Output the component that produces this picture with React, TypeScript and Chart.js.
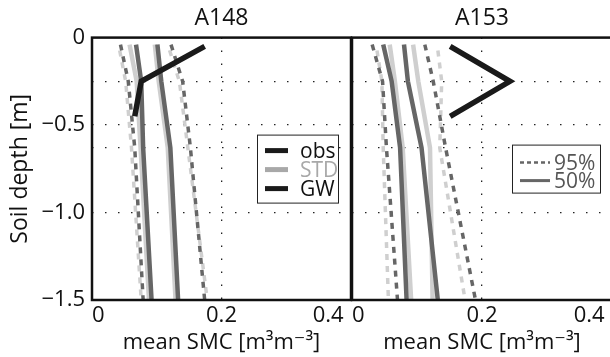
import React, { useEffect, useRef } from "react";
import { Chart, registerables } from "chart.js";
Chart.register(...registerables);

const FONT = "'Open Sans', 'DejaVu Sans', sans-serif";

const panelTitles = ["A148", "A153"];
const xTickValues = [0, 0.2, 0.4];
const xTickLabels = ["0", "0.2", "0.4\u2009\u2009"];
const yTickValues = [0, -0.25, -0.5, -0.63, -1.0, -1.5];
const yTickLabels = ["0", "", "\u22120.5", "", "\u22121.0", "\u22121.5"];
const xTitle = "mean SMC [m\u00B3m\u207B\u00B3]";
const yTitle = "Soil depth [m]";

const modelDepth = [-0.04, -0.25, -0.63, -1.5];
const obsDepth = [-0.05, -0.25, -0.45];

// A148
const a148Obs = [0.174, 0.076, 0.066];
const a148StdLo95 = [0.041, 0.052, 0.061, 0.076];
const a148GwLo95 = [0.044, 0.056, 0.066, 0.079];
const a148StdLo50 = [0.058, 0.069, 0.075, 0.088];
const a148GwLo50 = [0.068, 0.076, 0.079, 0.092];
const a148GwHi50 = [0.101, 0.107, 0.121, 0.133];
const a148StdHi50 = [0.097, 0.103, 0.117, 0.129];
const a148StdHi95 = [0.117, 0.135, 0.148, 0.178];
const a148GwHi95 = [0.122, 0.140, 0.152, 0.174];

// A153
const a153Obs = [0.151, 0.243, 0.151];
const a153GwLo95 = [0.031, 0.047, 0.053, 0.070];
const a153StdLo95 = [0.037, 0.046, 0.048, 0.056];
const a153GwLo50 = [0.048, 0.061, 0.074, 0.084];
const a153StdLo50 = [0.058, 0.066, 0.078, 0.091];
const a153GwHi50 = [0.080, 0.086, 0.107, 0.132];
const a153StdHi50 = [0.094, 0.102, 0.120, 0.124];
const a153GwHi95 = [0.112, 0.125, 0.144, 0.190];
const a153StdHi95 = [0.131, 0.138, 0.135, 0.174];

const legendObsLabels = ["obs", "STD", "GW"];
const legendPctLabels = ["95%", "50%"];

const DARK = "#666666";
const LIGHT = "#cfcfcf";
const OBS = "#1a1a1a";
const LEGEND_STD = "#a8a8a8";

function line(xs: number[], ys: number[], color: string, width: number, dash: number[] = [], dashOffset = 0) {
  return {
    data: xs.map((x, i) => ({ x, y: ys[i] })),
    borderColor: color,
    backgroundColor: color,
    borderWidth: width,
    borderDash: dash,
    borderDashOffset: dashOffset,
    borderCapStyle: "butt",
    borderJoinStyle: "miter",
    pointRadius: 0,
    showLine: true,
    fill: false,
    tension: 0,
  };
}

const DASH = [6, 6];

function panelDatasets(p: number) {
  const s =
    p === 0
      ? { obs: a148Obs, gl95: a148GwLo95, gh95: a148GwHi95, gl50: a148GwLo50, gh50: a148GwHi50, sl95: a148StdLo95, sh95: a148StdHi95, sl50: a148StdLo50, sh50: a148StdHi50 }
      : { obs: a153Obs, gl95: a153GwLo95, gh95: a153GwHi95, gl50: a153GwLo50, gh50: a153GwHi50, sl95: a153StdLo95, sh95: a153StdHi95, sl50: a153StdLo50, sh50: a153StdHi50 };
  // first dataset is drawn on top
  return [
    line(s.obs, obsDepth, OBS, 5.5),
    line(s.gl50, modelDepth, DARK, 4.5),
    line(s.gh50, modelDepth, DARK, 4.5),
    line(s.gl95, modelDepth, DARK, 3.5, DASH, 0),
    line(s.gh95, modelDepth, DARK, 3.5, DASH, 0),
    line(s.sl50, modelDepth, LIGHT, 4.5),
    line(s.sh50, modelDepth, LIGHT, 4.5),
    line(s.sl95, modelDepth, LIGHT, 3.5, DASH, 6),
    line(s.sh95, modelDepth, LIGHT, 3.5, DASH, 6),
  ];
}

const framePlugin = {
  id: "frame",
  afterDatasetsDraw(chart: any) {
    const { ctx, chartArea: a } = chart;
    ctx.save();
    ctx.strokeStyle = "#111";
    ctx.lineWidth = 2.5;
    ctx.strokeRect(a.left, a.top, a.right - a.left, a.bottom - a.top);
    ctx.restore();
  },
};

const legendPlugin = {
  id: "panelLegend",
  afterDatasetsDraw(chart: any, _args: any, opts: any) {
    if (!opts || !opts.items) return;
    const { ctx, chartArea: a } = chart;
    const bx = a.left + opts.dx;
    const by = a.top + opts.dy;
    ctx.save();
    ctx.fillStyle = "#fff";
    ctx.fillRect(bx, by, opts.w, opts.h);
    ctx.strokeStyle = "#222";
    ctx.lineWidth = 1;
    ctx.strokeRect(bx + 0.5, by + 0.5, opts.w, opts.h);
    ctx.font = `21px ${FONT}`;
    ctx.textBaseline = "middle";
    ctx.textAlign = "left";
    opts.items.forEach((it: any, i: number) => {
      const y = by + opts.row0 + i * opts.rowGap;
      ctx.beginPath();
      ctx.strokeStyle = it.color;
      ctx.lineWidth = it.width;
      ctx.setLineDash(it.dash || []);
      ctx.moveTo(bx + opts.sx0, y);
      ctx.lineTo(bx + opts.sx1, y);
      ctx.stroke();
      ctx.setLineDash([]);
      ctx.fillStyle = it.textColor;
      ctx.fillText(it.label, bx + opts.tx, y + 1);
    });
    ctx.restore();
  },
};

function makeConfig(p: number): any {
  const first = p === 0;
  const legend = first
    ? {
        dx: 165, dy: 97, w: 81, h: 68, row0: 16, rowGap: 19, sx0: 8, sx1: 31, tx: 43,
        items: [
          { label: legendObsLabels[0], color: OBS, width: 5, textColor: "#111" },
          { label: legendObsLabels[1], color: LEGEND_STD, width: 5, textColor: LEGEND_STD },
          { label: legendObsLabels[2], color: OBS, width: 5, textColor: "#111" },
        ],
      }
    : {
        dx: 160, dy: 107, w: 88, h: 48, row0: 18, rowGap: 18, sx0: 8, sx1: 38, tx: 42,
        items: [
          { label: legendPctLabels[0], color: DARK, width: 2.5, dash: [4, 3], textColor: "#555" },
          { label: legendPctLabels[1], color: DARK, width: 3, textColor: "#555" },
        ],
      };
  return {
    type: "scatter",
    data: { datasets: panelDatasets(p) },
    plugins: [framePlugin, legendPlugin],
    options: {
      animation: false,
      responsive: false,
      devicePixelRatio: 1,
      layout: { padding: first ? { left: 0, right: 9, top: 0, bottom: 0 } : { left: 12, right: 8, top: 0, bottom: 0 } },
      plugins: {
        legend: { display: false },
        tooltip: { enabled: false },
        title: {
          display: true,
          text: panelTitles[p],
          fullSize: false,
          color: "#111",
          font: { family: FONT, size: 23, weight: "normal", lineHeight: 1.2 },
          padding: { top: 5, bottom: 5 },
        },
        panelLegend: legend,
      },
      scales: {
        x: {
          type: "linear",
          min: 0,
          max: 0.4,
          afterBuildTicks: (s: any) => {
            s.ticks = xTickValues.map((v) => ({ value: v }));
          },
          afterFit: (s: any) => {
            s.height = 57;
          },
          ticks: {
            align: "inner",
            padding: 3,
            color: "#111",
            maxRotation: 0,
            font: { family: FONT, size: 22 },
            callback: (v: any) => {
              const i = xTickValues.indexOf(v);
              return i >= 0 ? xTickLabels[i] : "";
            },
          },
          grid: {
            drawTicks: false,
            lineWidth: 1.3,
            color: (c: any) => (c.tick && c.tick.value === 0.2 ? "#222" : "rgba(0,0,0,0)"),
          },
          border: { display: false, dash: [1.5, 11.5] },
          title: {
            display: true,
            text: xTitle,
            color: "#111",
            font: { family: FONT, size: 22, lineHeight: 1.2 },
            padding: { top: 0, bottom: 1 },
          },
        },
        y: {
          type: "linear",
          min: -1.5,
          max: 0,
          afterBuildTicks: (s: any) => {
            s.ticks = yTickValues.map((v) => ({ value: v }));
          },
          afterFit: (s: any) => {
            s.width = first ? 92 : 0;
          },
          ticks: {
            display: first,
            padding: 7,
            color: "#111",
            font: { family: FONT, size: 22 },
            callback: (v: any) => {
              const i = yTickValues.indexOf(v);
              return i >= 0 ? yTickLabels[i] : "";
            },
          },
          grid: {
            drawTicks: false,
            lineWidth: 1.3,
            color: (c: any) =>
              c.tick && (c.tick.value === 0 || c.tick.value === -1.5) ? "rgba(0,0,0,0)" : "#222",
          },
          border: { display: false, dash: [1.5, 11.5] },
          title: {
            display: first,
            text: yTitle,
            color: "#111",
            font: { family: FONT, size: 23, lineHeight: 1.2 },
            padding: { top: 7, bottom: 0 },
          },
        },
      },
    },
  };
}

export default function App() {
  const ref1 = useRef<HTMLCanvasElement>(null);
  const ref2 = useRef<HTMLCanvasElement>(null);
  useEffect(() => {
    const c1 = new Chart(ref1.current as HTMLCanvasElement, makeConfig(0));
    const c2 = new Chart(ref2.current as HTMLCanvasElement, makeConfig(1));
    return () => {
      c1.destroy();
      c2.destroy();
    };
  }, []);
  return (
    <div style={{ position: "fixed", left: 0, top: 0, width: 610, height: 357, overflow: "hidden", background: "#fff" }}>
      <canvas ref={ref1} width={360} height={357} style={{ position: "absolute", left: 0, top: 0 }} />
      <canvas ref={ref2} width={280} height={357} style={{ position: "absolute", left: 340, top: 0 }} />
    </div>
  );
}
